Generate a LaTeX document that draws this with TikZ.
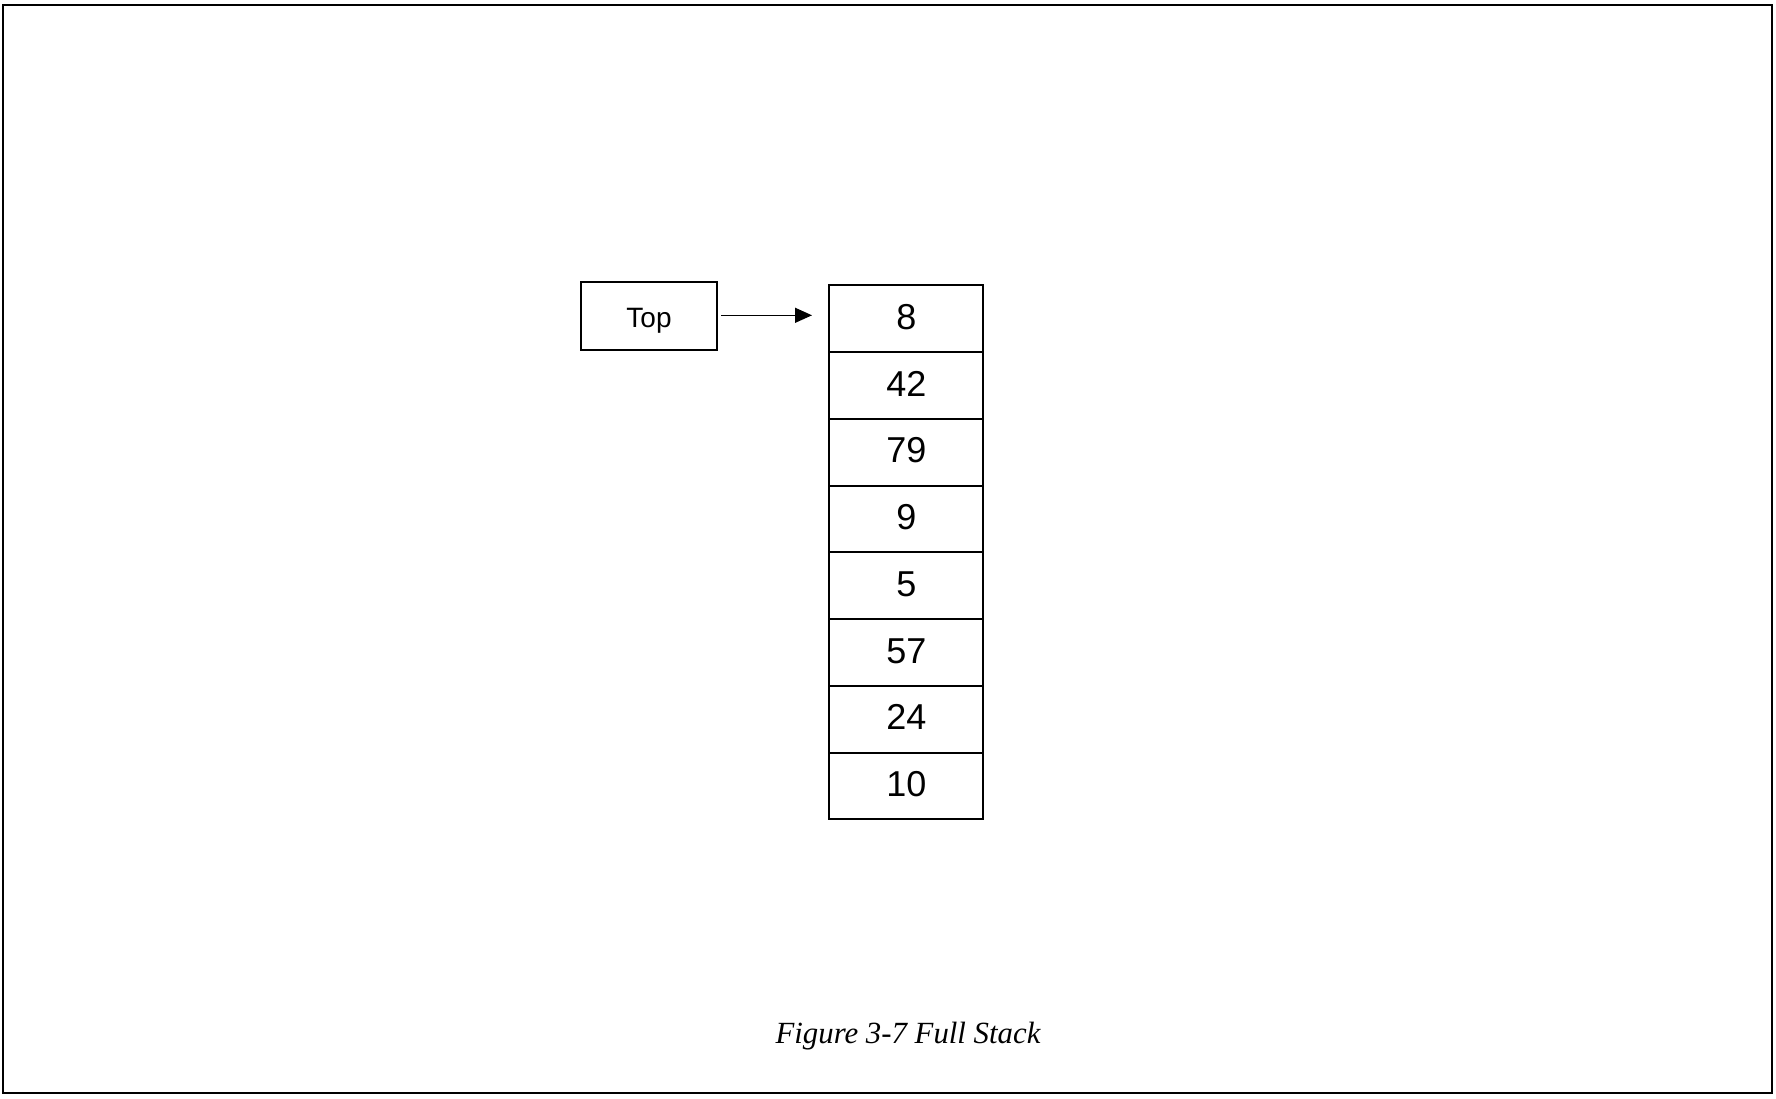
\documentclass[tikz,border=0pt]{standalone}
\usepackage{fontspec}
\setmainfont{Liberation Serif}
\setsansfont{Liberation Sans}
\usetikzlibrary{arrows.meta}
\begin{document}
\begin{tikzpicture}[x=1pt,y=-1pt,
  cell/.style={draw,line width=2pt,minimum width=154pt,minimum height=66.8pt,inner sep=0pt,text height=26pt,text depth=5pt,font=\sffamily\fontsize{36}{36}\selectfont},
  topbox/.style={draw,line width=2pt,minimum width=136pt,minimum height=68pt,inner sep=0pt,text height=29pt,text depth=6pt,font=\sffamily\fontsize{28}{28}\selectfont},
  ptr/.style={line width=1.3pt,-{Triangle[length=17pt,width=15pt]}}]
\useasboundingbox (0,0) rectangle (1776,1098);
\draw[line width=2.5pt] (3,5) rectangle (1772,1093);
\node[topbox] (top) at (649,316) {Top};
\foreach \v [count=\i] in {8,42,79,9,5,57,24,10}{
  \node[cell] (c\i) at (906.3,{285.4+66.75*(\i-0.5)}) {\v};
}
\coordinate (tip) at (812,315.3);
\draw[ptr] ([xshift=3pt]top.east |- tip) -- (tip);
\node[font=\itshape\fontsize{30.8}{30.8}\selectfont] (cap) at (908,1036.5) {Figure 3-7 Full Stack};
\end{tikzpicture}
\end{document}
